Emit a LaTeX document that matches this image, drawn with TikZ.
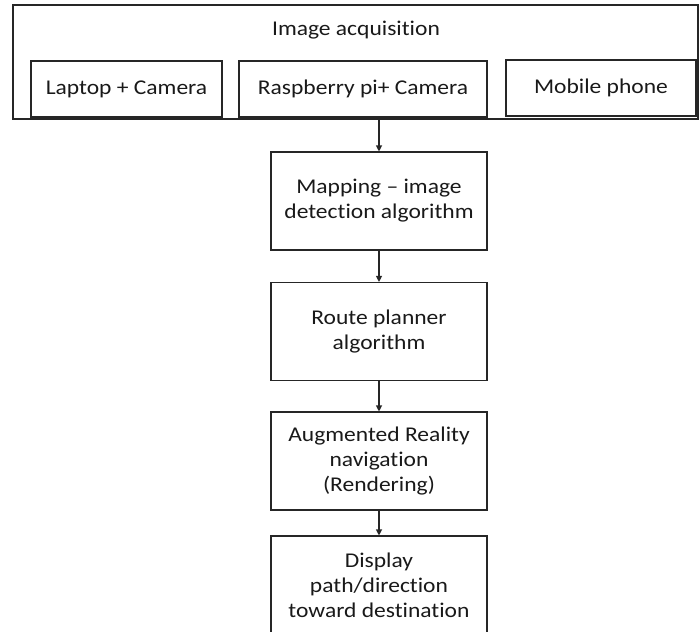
\documentclass[tikz,border=0pt]{standalone}
\usepackage{fontspec}
\setmainfont{Carlito}[FakeStretch=1.12,Ligatures=NoCommon]
\usetikzlibrary{arrows.meta}
\begin{document}
\begin{tikzpicture}[x=1pt,y=-1pt,
  line width=1.1pt,
  boxstyle/.style={draw=black!85,rectangle,inner sep=0pt,align=center,
    font=\fontsize{21}{25}\selectfont,text=black!90},
  flowbox/.style={boxstyle,minimum width=216pt,minimum height=98pt},
  devbox/.style={boxstyle,minimum height=56pt},
  flowarrow/.style={draw=black!85,-{Triangle[length=6pt,width=6pt]}}]
\useasboundingbox (0,0) rectangle (699,632);

% outer acquisition frame and its title
\node[boxstyle,minimum width=685pt,minimum height=114pt] (acq) at (355.5,62) {};
\node[font=\fontsize{21}{25}\selectfont,text=black!90] (acqtitle) at (356,30) {Image acquisition};

% capture devices
\node[devbox,minimum width=191pt] (laptop) at (126.5,89) {Laptop + Camera};
\node[devbox,minimum width=248pt] (rpi) at (363,89) {Raspberry pi+ Camera};
\node[devbox,minimum width=190pt] (mobile) at (601,88) {Mobile phone};

% processing chain
\node[flowbox] (map) at (379,201) {Mapping -- image\\detection algorithm};
\node[flowbox] (route) at (379,331.5) {Route planner\\algorithm};
\node[flowbox] (ar) at (379,461) {Augmented Reality\\navigation\\(Rendering)};
\node[flowbox] (disp) at (379,585) {Display\\path/direction\\toward destination};

\draw[flowarrow] (map.north |- acq.south) -- (map.north);
\draw[flowarrow] (map) -- (route);
\draw[flowarrow] (route) -- (ar);
\draw[flowarrow] (ar) -- (disp);
\end{tikzpicture}
\end{document}
